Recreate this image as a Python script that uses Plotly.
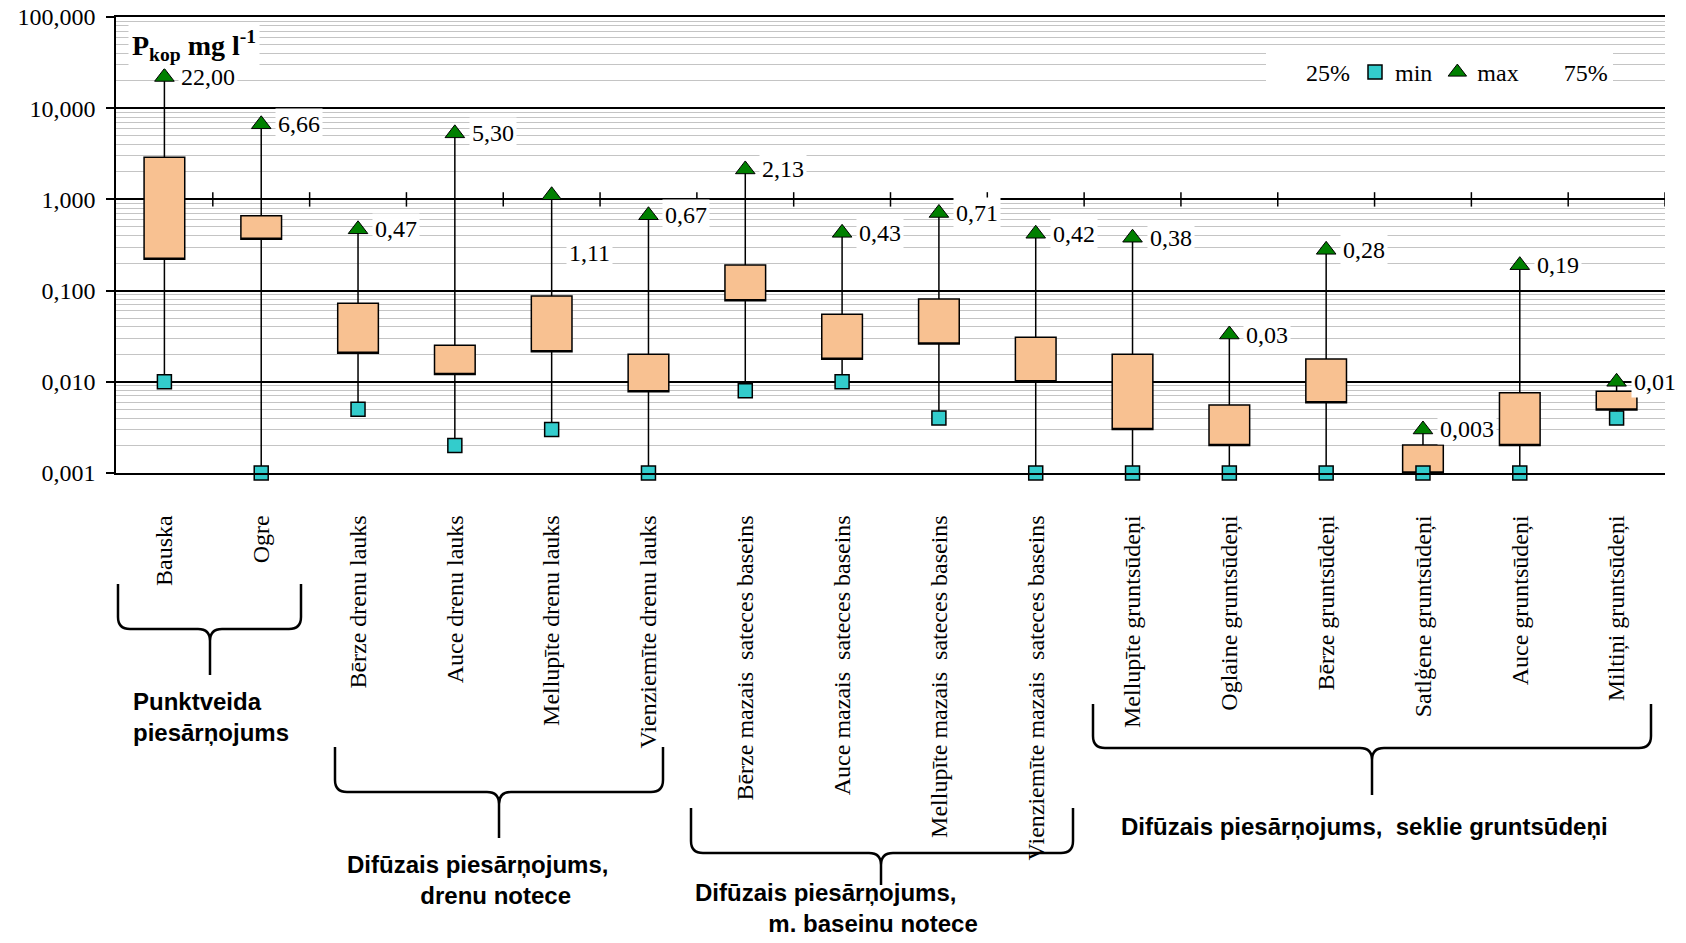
import math
import plotly.graph_objects as go

# ---------------- data ----------------
categories = [
    "Bauska", "Ogre",
    "Bērze drenu lauks", "Auce drenu lauks", "Mellupīte drenu lauks", "Vienziemīte drenu lauks",
    "Bērze mazais\u00a0\u00a0sateces baseins", "Auce mazais\u00a0\u00a0sateces baseins",
    "Mellupīte mazais\u00a0\u00a0sateces baseins", "Vienziemīte mazais\u00a0\u00a0sateces baseins",
    "Mellupīte gruntsūdeņi", "Oglaine gruntsūdeņi", "Bērze gruntsūdeņi",
    "Satlģene gruntsūdeņi", "Auce gruntsūdeņi", "Miltiņi gruntsūdeņi",
]
q25 = [0.22, 0.366, 0.0206, 0.012, 0.0214, 0.0078, 0.0776, 0.0177, 0.026, 0.010,
       0.003, 0.002, 0.0059, 0.001, 0.002, 0.0049]
q75 = [2.9, 0.66, 0.0728, 0.0252, 0.0875, 0.0201, 0.191, 0.0551, 0.0811, 0.0308,
       0.0201, 0.00558, 0.0178, 0.00203, 0.0076, 0.0079]
mins = [0.01, 0.001, 0.005, 0.002, 0.003, 0.001, 0.008, 0.01, 0.004, 0.001,
        0.001, 0.001, 0.001, 0.001, 0.001, 0.004]
maxs = [22.0, 6.66, 0.47, 5.30, 1.11, 0.67, 2.13, 0.43, 0.71, 0.42,
        0.38, 0.033, 0.28, 0.003, 0.19, 0.01]
max_labels = ["22,00", "6,66", "0,47", "5,30", "1,11", "0,67", "2,13", "0,43", "0,71", "0,42",
              "0,38", "0,03", "0,28", "0,003", "0,19", "0,01"]
y_tick_values = [0.001, 0.01, 0.1, 1, 10, 100]
y_tick_labels = ["0,001", "0,010", "0,100", "1,000", "10,000", "100,000"]
x_axis_crossing = 1.0
group_labels = [
    "<b>Punktveida<br>piesārņojums</b>",
    "<b>Difūzais piesārņojums,<br>" + "\u00a0" * 11 + "drenu notece</b>",
    "<b>Difūzais piesārņojums,<br>" + "\u00a0" * 11 + "m. baseinu notece</b>",
    "<b>Difūzais piesārņojums,\u00a0\u00a0seklie gruntsūdeņi</b>",
]
legend_names = ["25%", "min", "max", "75%"]

# ---------------- styling ----------------
SERIF = "Liberation Serif, Times New Roman, serif"
SANS = "Liberation Sans, Arial, sans-serif"
BOX_FILL = "#F8C191"
MIN_COLOR = "#33CCCC"
MAX_COLOR = "#008000"

# page geometry (body margin is removed by a post script, so figure == page)
W, H = 1686, 943
# plot area in page pixels
PX0, PX1, PY0, PY1 = 116, 1665, 17, 473
L, T = PX0, PY0
R, B = W - PX1, H - PY1
PW, PH = PX1 - PX0, PY1 - PY0


def px2paper(px, py):
    return (px - PX0) / PW, (PY1 - py) / PH


idx = list(range(len(categories)))

fig = go.Figure()

# legend-only entry for 25%
fig.add_trace(go.Scatter(x=[None], y=[None], mode="markers", name=legend_names[0],
                         marker=dict(color="rgba(0,0,0,0)", size=1, line=dict(width=0)),
                         hoverinfo="skip"))

# boxes (25%-75%) with whiskers min..max
fig.add_trace(go.Box(
    x=idx, q1=q25, median=q25, q3=q75, lowerfence=mins, upperfence=maxs,
    width=0.42, fillcolor=BOX_FILL, line=dict(color="black", width=1.5),
    boxpoints=False, showlegend=False, whiskerwidth=0, hoverinfo="skip",
))

# tick marks on the crossing axis at 1,000 (category boundaries)
tx, ty = [], []
for i in idx:
    tx += [i + 0.5, i + 0.5, None]
    ty += [x_axis_crossing / 1.2, x_axis_crossing * 1.2, None]
fig.add_trace(go.Scatter(x=tx, y=ty, mode="lines", line=dict(color="black", width=1.5),
                         showlegend=False, hoverinfo="skip", cliponaxis=False))

# min markers
fig.add_trace(go.Scatter(x=idx, y=mins, mode="markers", name=legend_names[1],
                         marker=dict(symbol="square", size=14, color=MIN_COLOR,
                                     line=dict(color="black", width=1.5)),
                         cliponaxis=False))
# max markers
fig.add_trace(go.Scatter(x=idx, y=maxs, mode="markers", name=legend_names[2],
                         marker=dict(symbol="triangle-up", size=17, color=MAX_COLOR,
                                     line=dict(color="black", width=1)),
                         cliponaxis=False))
# legend-only entry for 75%
fig.add_trace(go.Scatter(x=[None], y=[None], mode="markers", name=legend_names[3],
                         marker=dict(color="rgba(0,0,0,0)", size=1, line=dict(width=0)),
                         hoverinfo="skip"))

annotations = []
# axis title (drawn first so value labels sit above it)
tx0, ty0 = px2paper(128, 22)
annotations.append(dict(
    x=tx0, y=ty0, xref="paper", yref="paper", xanchor="left", yanchor="top",
    text="<b>P<sub>kop</sub> mg l<sup>-1</sup></b>", showarrow=False,
    bgcolor="white", borderpad=3, font=dict(family=SERIF, size=28, color="black"),
))

# max value labels
label_yshift = {4: -58}
for i, (v, t) in enumerate(zip(maxs, max_labels)):
    annotations.append(dict(
        x=i, y=math.log10(v), xref="x", yref="y", text=t, showarrow=False,
        xanchor="left", yanchor="middle", xshift=14, yshift=label_yshift.get(i, 0),
        bgcolor="white", borderpad=2, font=dict(family=SERIF, size=24, color="black"),
    ))

# group brackets & labels (page pixels)
brackets = [
    # xl, xr, xc, ytop, ymid, ytip
    (118, 301, 210, 584, 629, 675),
    (335, 663, 499, 747, 792, 838),
    (691, 1073, 881, 808, 853, 885),
    (1093, 1651, 1372, 704, 748, 795),
]
label_pos = [(131, 686), (345, 849), (693, 877), (1119, 811)]

shapes = []
for (xl, xr, xc, yt, ym, yp) in brackets:
    r = 12
    pts = [
        ("M", [(xl, yt)]),
        ("L", [(xl, ym - r)]),
        ("Q", [(xl, ym), (xl + r, ym)]),
        ("L", [(xc - r, ym)]),
        ("Q", [(xc, ym), (xc, ym + r)]),
        ("L", [(xc, yp)]),
        ("M", [(xc, ym + r)]),
        ("Q", [(xc, ym), (xc + r, ym)]),
        ("L", [(xr - r, ym)]),
        ("Q", [(xr, ym), (xr, ym - r)]),
        ("L", [(xr, yt)]),
    ]
    path = ""
    for cmd, pl in pts:
        path += cmd + " " + " ".join("%.5f,%.5f" % px2paper(a, b) for a, b in pl) + " "
    shapes.append(dict(type="path", xref="paper", yref="paper", path=path.strip(),
                       line=dict(color="black", width=2.5)))

for (gx, gy), txt in zip(label_pos, group_labels):
    ax_, ay_ = px2paper(gx, gy)
    annotations.append(dict(
        x=ax_, y=ay_, xref="paper", yref="paper", xanchor="left", yanchor="top",
        align="left", text=txt, showarrow=False,
        font=dict(family=SANS, size=24, color="black"),
    ))

minor_vals = [m * 10 ** e for e in range(-3, 2) for m in range(2, 10)]

fig.update_layout(
    template="none",
    width=W, height=H,
    margin=dict(l=L, r=R, t=T, b=B, pad=0),
    paper_bgcolor="white", plot_bgcolor="white",
    showlegend=True,
    legend=dict(orientation="h", x=px2paper(1266, 0)[0], y=px2paper(0, 50)[1],
                xanchor="left", yanchor="top", bgcolor="white",
                font=dict(family=SERIF, size=24, color="black"),
                itemwidth=30, tracegroupgap=0),
    xaxis=dict(
        range=[-0.5, len(categories) - 0.5], tickmode="array", tickvals=idx, ticktext=categories,
        tickangle=-90, tickfont=dict(family=SERIF, size=24, color="black"),
        ticks="outside", ticklen=31, tickcolor="rgba(0,0,0,0)",
        showgrid=False, zeroline=False, showline=True, mirror=True,
        linecolor="black", linewidth=1.5, automargin=False,
    ),
    yaxis=dict(
        type="log", range=[-3, 2], tickmode="array", tickvals=y_tick_values,
        ticktext=y_tick_labels, ticklabeloverflow="allow",
        tickfont=dict(family=SERIF, size=24, color="black"),
        ticks="outside", ticklen=8, tickwidth=1.5, tickcolor="black", ticklabelstandoff=6,
        showgrid=True, gridcolor="black", gridwidth=1.5,
        minor=dict(tickvals=minor_vals, showgrid=True, gridcolor="#C4C4C4", gridwidth=1.3, ticks=""),
        showline=True, linecolor="black", linewidth=1.5, zeroline=False, automargin=False,
    ),
    annotations=annotations,
    shapes=shapes,
    hovermode=False,
)

fig.write_html("out.html", config={"displayModeBar": False},
               post_script="document.body.style.margin='0px';")
